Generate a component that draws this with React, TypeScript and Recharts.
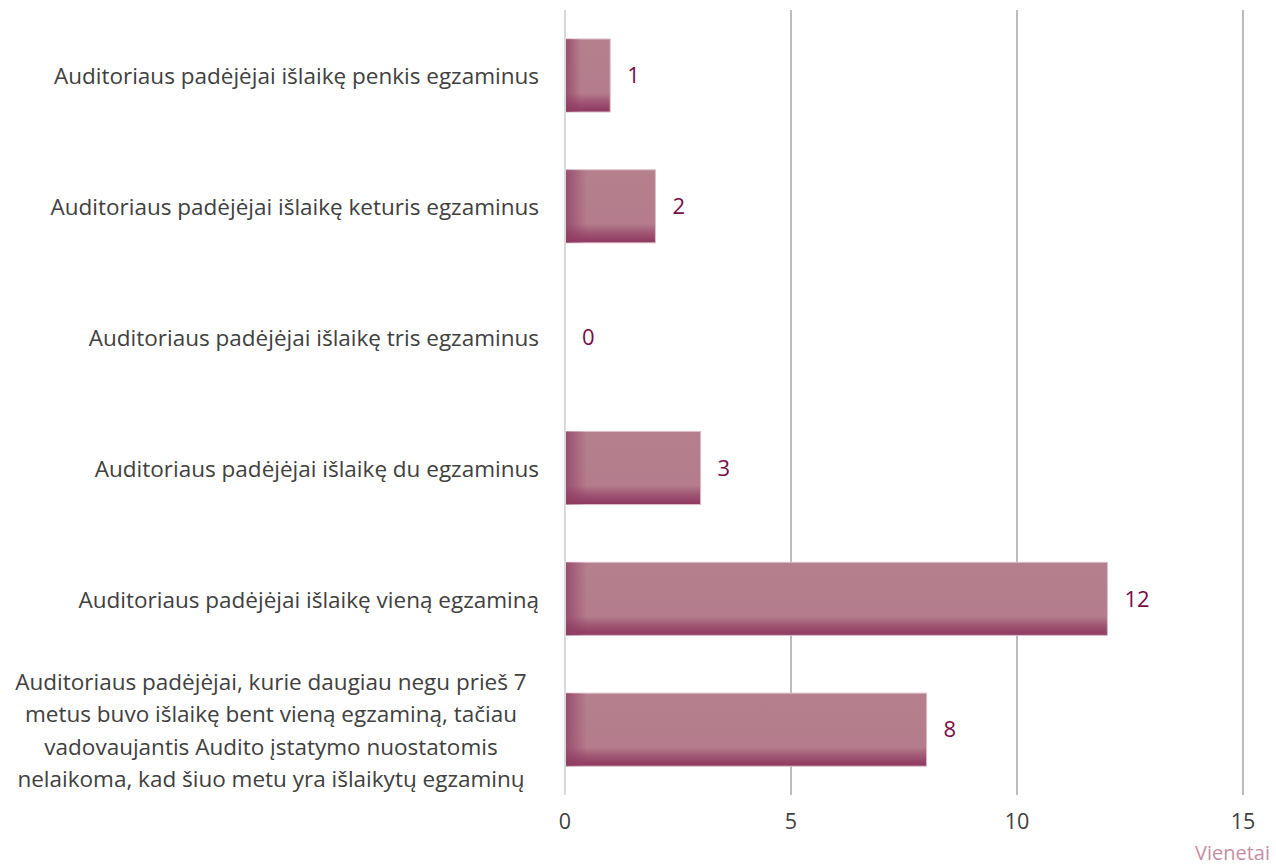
import { BarChart, Bar, XAxis, YAxis, CartesianGrid, LabelList, ReferenceLine } from "recharts"

const categories = [
  "Auditoriaus padėjėjai išlaikę penkis egzaminus",
  "Auditoriaus padėjėjai išlaikę keturis egzaminus",
  "Auditoriaus padėjėjai išlaikę tris egzaminus",
  "Auditoriaus padėjėjai išlaikę du egzaminus",
  "Auditoriaus padėjėjai išlaikę vieną egzaminą",
  "Auditoriaus padėjėjai, kurie daugiau negu prieš 7\nmetus buvo išlaikę bent vieną egzaminą, tačiau\nvadovaujantis Audito įstatymo nuostatomis\nnelaikoma, kad šiuo metu yra išlaikytų egzaminų",
]
const values = [1, 2, 0, 3, 12, 8]
const xTicks = [0, 5, 10, 15]
const unitLabel = "Vienetai"

const data = categories.map((name, i) => ({ name, value: values[i] }))

const FONT = "'Open Sans', sans-serif"

const CategoryTick = (props: any) => {
  const { x, y, payload } = props
  const lines: string[] = String(payload.value).split("\n")
  const lh = 32.5
  const startY = y - ((lines.length - 1) * lh) / 2
  const multi = lines.length > 1
  const tx = multi ? x - 268 : x
  return (
    <text
      x={tx}
      y={startY}
      textAnchor={multi ? "middle" : "end"}
      fill="#404040"
      fontSize={22.5}
      fontFamily={FONT}
      dominantBaseline="central"
    >
      {lines.map((l, i) => (
        <tspan key={i} x={tx} dy={i === 0 ? 0 : lh}>
          {l}
        </tspan>
      ))}
    </text>
  )
}

const ShadedBar = (props: any) => {
  const { x, y, width, height } = props
  if (!width || width <= 0) return null
  const strip = Math.min(22, width * 0.35)
  return (
    <g>
      <rect x={x} y={y} width={width} height={height} fill="url(#barV)" stroke="#dcbcc8" strokeWidth={1} />
      <rect x={x} y={y} width={strip} height={height} fill="url(#barH)" />
    </g>
  )
}

const App = () => {
  return (
    <div style={{ position: "absolute", left: 0, top: 0 }}>
      <BarChart
        width={1276}
        height={866}
        data={data}
        layout="vertical"
        margin={{ top: 10, right: 33, bottom: 0, left: 0 }}
        barSize={73}
      >
        <defs>
          <linearGradient id="barV" x1="0" y1="0" x2="0" y2="1">
            <stop offset="0%" stopColor="#b57f8e" />
            <stop offset="74%" stopColor="#b47c8c" />
            <stop offset="86%" stopColor="#a05774" />
            <stop offset="100%" stopColor="#8c385e" />
          </linearGradient>
          <linearGradient id="barH" x1="0" y1="0" x2="1" y2="0">
            <stop offset="0%" stopColor="#8f3c62" stopOpacity={0.75} />
            <stop offset="100%" stopColor="#8f3c62" stopOpacity={0} />
          </linearGradient>
        </defs>
        <CartesianGrid horizontal={false} stroke="#a6a6a6" strokeWidth={1.5} />
        <XAxis
          type="number"
          domain={[0, 15]}
          ticks={xTicks}
          axisLine={false}
          tickLine={false}
          height={71}
          tickMargin={13}
          tick={{ fill: "#404040", fontSize: 21.5, fontFamily: FONT }}
          label={(p: any) => {
            const vb = p.viewBox
            return (
              <text
                x={vb.x + vb.width + 27}
                y={vb.y + vb.height - 6}
                textAnchor="end"
                fill="#c48fa3"
                fontSize={20}
                fontFamily={FONT}
              >
                {unitLabel}
              </text>
            )
          }}
        />
        <YAxis
          type="category"
          dataKey="name"
          width={565}
          axisLine={false}
          tickLine={false}
          tickMargin={20}
          tick={<CategoryTick />}
          interval={0}
        />
        <ReferenceLine x={0} stroke="#d9d9d9" strokeWidth={2} />
        <Bar dataKey="value" shape={<ShadedBar />} isAnimationActive={false}>
          <LabelList
            dataKey="value"
            position="right"
            offset={17}
            fill="#780c47"
            fontSize={22}
            fontFamily={FONT}
          />
        </Bar>
      </BarChart>
    </div>
  )
}

export default App
